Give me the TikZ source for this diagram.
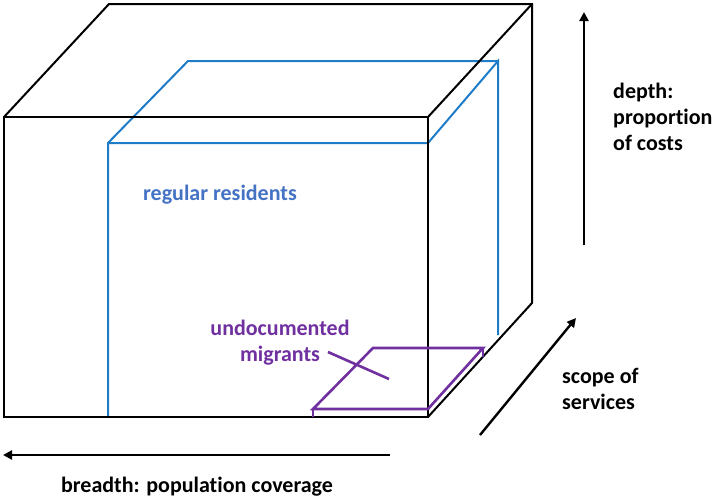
\documentclass[tikz,border=0pt]{standalone}
\usepackage{fontspec}
\setmainfont{Carlito}[RawFeature={-liga;-clig;-dlig}]
\usetikzlibrary{arrows.meta}
\definecolor{boxblue}{HTML}{1F7CC8}
\definecolor{txtblue}{HTML}{4472C4}
\definecolor{mpurple}{HTML}{7030A0}
\tikzset{
  blackline/.style={draw=black,line width=2pt,line join=miter},
  blueline/.style={draw=boxblue,line width=2pt,line join=miter},
  purpleline/.style={draw=mpurple,line width=2.6pt,line join=miter},
  axisarrow/.style={draw=black,line width=2.4pt,-{Triangle[length=9pt,width=9pt]}},
  lbl/.style={inner sep=0pt,font=\fontsize{22}{26}\selectfont\bfseries}
}
\begin{document}
\begin{tikzpicture}[x=1pt,y=-1pt]
\useasboundingbox (0,0) rectangle (715,499);
% black cube
\coordinate (FTL) at (4,117);
\coordinate (FTR) at (428,117);
\coordinate (FBR) at (428,417);
\coordinate (FBL) at (4,417);
\coordinate (BTL) at (109,4);
\coordinate (BTR) at (532,4);
\coordinate (BBR) at (532,303);
% blue box
\coordinate (bFTL) at (108,143);
\coordinate (bFTR) at (428,143);
\coordinate (bFBL) at (108,417);
\coordinate (bBTL) at (188,61);
\coordinate (bBTR) at (498,61);
\coordinate (bBBR) at (498,335);
% purple slab
\coordinate (pA) at (313,409);
\coordinate (pB) at (428,409);
\coordinate (pC) at (483,348);
\coordinate (pD) at (373,348);
\coordinate (pAd) at (313,417);
\coordinate (pCd) at (483,357);
\coordinate (ptrS) at (328,352);
\coordinate (ptrE) at (389,379);
% arrows
\coordinate (dS) at (584,245);
\coordinate (dE) at (584,12);
\coordinate (sS) at (480,435);
\coordinate (sE) at (576,318);
\coordinate (bS) at (390,455);
\coordinate (bE) at (3,455);

% blue box lines
\draw[blueline] (bFBL) -- (bFTL) -- (bFTR) -- (bBTR) -- (bBBR);
\draw[blueline] (bFTL) -- (bBTL) -- (bBTR);

% black cube lines
\draw[blackline] (FTL) rectangle (FBR);
\draw[blackline] (FTL) -- (BTL) -- (BTR) -- (BBR) -- (FBR);
\draw[blackline] (FTR) -- (BTR);

% purple slab
\draw[purpleline] (pA) -- (pB) -- (pC) -- (pD) -- cycle;
\draw[purpleline] (pA) -- (pAd);
\draw[purpleline] (pC) -- (pCd);
\draw[purpleline] (ptrS) -- (ptrE);

% axis arrows
\draw[axisarrow] (dS) -- (dE);
\draw[axisarrow] (sS) -- (sE);
\draw[axisarrow] (bS) -- (bE);

% labels
\node[lbl,text=txtblue] (reg) at (220,195) {regular residents};
\node[lbl,text=mpurple,align=center] (undoc) at (280,343) {undocumented\\migrants};
\node[lbl,anchor=west,align=left] (depth) at (613,117) {depth:\\proportion\\of costs};
\node[lbl,anchor=west,align=left] (scope) at (562,389) {scope of\\services};
\node[lbl] (breadth) at (197,487) {breadth: population coverage};
\end{tikzpicture}
\end{document}
